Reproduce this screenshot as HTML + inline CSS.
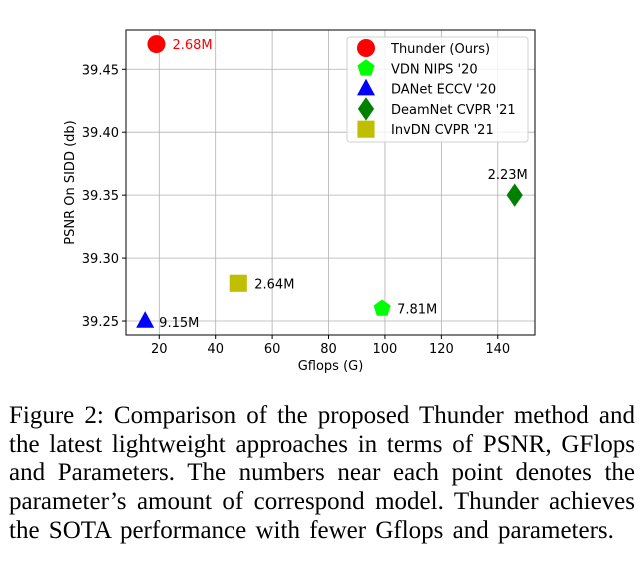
<!DOCTYPE html>
<html><head><meta charset="utf-8"><style>
body{margin:0;background:#fff;width:644px;height:563px;overflow:hidden;position:relative}
svg text{font-family:"DejaVu Sans","Liberation Sans",sans-serif}
#cap{position:absolute;left:9px;top:402px;width:626px;font-family:"Liberation Serif",serif;font-size:25px;line-height:28.7px;color:#000;word-spacing:-1.5px}
#cap div{text-align:justify;text-align-last:justify;white-space:nowrap}
#cap div.last{text-align-last:left;word-spacing:3px}
</style></head><body>
<svg id="chart" width="644" height="395" style="position:absolute;left:0;top:0"></svg>
<div id="cap">
<div>Figure 2: Comparison of the proposed Thunder method and</div>
<div>the latest lightweight approaches in terms of PSNR, GFlops</div>
<div>and Parameters. The numbers near each point denotes the</div>
<div>parameter’s amount of correspond model. Thunder achieves</div>
<div class="last">the SOTA performance with fewer Gflops and parameters.</div>
</div>
<script>
const names=["Thunder (Ours)","VDN NIPS '20","DANet ECCV '20","DeamNet CVPR '21","InvDN CVPR '21"];
const gflops=[19,99,15,146,48];
const psnr=[39.47,39.26,39.25,39.35,39.28];
const params=["2.68M","7.81M","9.15M","2.23M","2.64M"];
const xTicks=[20,40,60,80,100,120,140];
const yTicks=[39.25,39.30,39.35,39.40,39.45];
const colors=["#ff0000","#00ff00","#0000ff","#008000","#bfbf00"];
const shapes=["circle","pentagon","triangle","diamond","square"];
const L=126,R=535,T=30,B=335,x0=8.2,x1=153.2,y0=39.2389,y1=39.4812;
const sx=v=>L+(v-x0)/(x1-x0)*(R-L), sy=v=>B-(v-y0)/(y1-y0)*(B-T);
const svg=document.getElementById('chart');const NS="http://www.w3.org/2000/svg";
function el(t,a,p){const e=document.createElementNS(NS,t);for(const k in a)e.setAttribute(k,a[k]);(p||svg).appendChild(e);return e;}
xTicks.forEach(v=>{const x=sx(v);
const g=el('line',{x1:x,x2:x,y1:T,y2:B,stroke:'#b0b0b0','stroke-width':0.8});

el('line',{x1:x,x2:x,y1:B,y2:B+4,stroke:'#000'});
const t=el('text',{x:x,y:B+18,'text-anchor':'middle','font-size':13});t.textContent=v;
});
yTicks.forEach(v=>{const y=sy(v);
const g=el('line',{x1:L,x2:R,y1:y,y2:y,stroke:'#b0b0b0','stroke-width':0.8});

el('line',{x1:L-4,x2:L,y1:y,y2:y,stroke:'#000'});
const t=el('text',{x:L-7,y:y+5,'text-anchor':'end','font-size':13});t.textContent=v.toFixed(2);
});
const fr=el('rect',{x:L,y:T,width:R-L,height:B-T,fill:'none',stroke:'#000','stroke-width':1});

let t=el('text',{x:(L+R)/2,y:370,'text-anchor':'middle','font-size':13});t.textContent='Gflops (G)';

t=el('text',{transform:'translate(74,'+((T+B)/2)+') rotate(-90)','text-anchor':'middle','font-size':13});t.textContent='PSNR On SIDD (db)';

function marker(s,x,y,c,r){let e;
if(s=='circle')e=el('circle',{cx:x,cy:y,r:r});
else if(s=='square')e=el('rect',{x:x-r*0.95,y:y-r*0.95,width:r*1.9,height:r*1.9});
else{let pts=[];if(s=='pentagon'){for(let i=0;i<5;i++){const a=-Math.PI/2+i*2*Math.PI/5;pts.push([x+r*Math.cos(a),y+r*Math.sin(a)]);}}
else if(s=='triangle')pts=[[x,y-r*1.1],[x+r,y+r*0.75],[x-r,y+r*0.75]];
else pts=[[x,y-r*1.3],[x+r*0.9,y],[x,y+r*1.3],[x-r*0.9,y]];
e=el('polygon',{points:pts.map(p=>p.join(',')).join(' ')});}
e.setAttribute('fill',c);return e;}
const off=[[16,5],[15,5],[14,6],[-7,-16],[16,5]];
gflops.forEach((g,i)=>{const x=sx(g),y=sy(psnr[i]);
const m=marker(shapes[i],x,y,colors[i],9);

const lt=el('text',{x:x+off[i][0],y:y+off[i][1],'font-size':13,fill:i==0?'#ff0000':'#000','text-anchor':i==3?'middle':'start'});lt.textContent=params[i];
});
const lg=el('rect',{x:347,y:37,width:181,height:105,rx:3,fill:'#fff','fill-opacity':0.8,stroke:'#d0d0d0'});

names.forEach((n,i)=>{const y=48+i*20.3;
const m=marker(shapes[i],366,y,colors[i],9);

const tt=el('text',{x:391,y:y+5,'font-size':13});tt.textContent=n;
});
</script>
</body></html>
